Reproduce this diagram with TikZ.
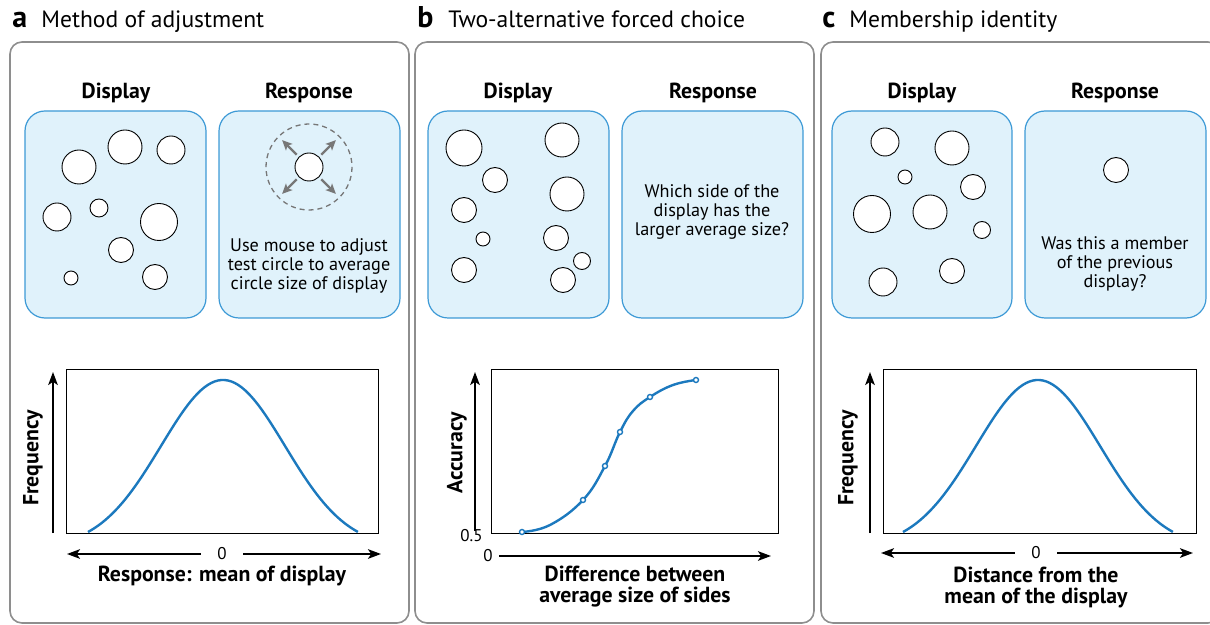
\documentclass[tikz,border=0pt]{standalone}
\usepackage{fontspec}
\setmainfont{PT Sans}
\usetikzlibrary{positioning}
\usetikzlibrary{arrows.meta}

\definecolor{boxblue}{HTML}{E0F2FB}
\definecolor{edgeblue}{HTML}{3D9AD6}
\definecolor{curveblue}{HTML}{1C79BE}
\definecolor{framegray}{HTML}{8E8E8E}
\definecolor{movegray}{HTML}{777777}

\tikzset{
  panelframe/.style={draw=framegray, line width=0.8pt, rounded corners=6pt},
  screenbox/.style={draw=edgeblue, fill=boxblue, line width=0.6pt, rounded corners=10pt},
  disc/.style={draw=black, fill=white, line width=0.45pt},
  panelletter/.style={anchor=base west, inner sep=0pt, font=\fontsize{15}{17}\selectfont\bfseries},
  paneltitle/.style={anchor=base west, inner sep=0pt, font=\fontsize{11.8}{13}\selectfont},
  colhead/.style={anchor=base, inner sep=0pt, font=\fontsize{10.9}{12}\selectfont\bfseries},
  boxtext/.style={align=center, inner sep=0pt, font=\fontsize{9.1}{9.5}\selectfont},
  axtitle/.style={align=center, inner sep=0pt, font=\fontsize{10.9}{10.5}\selectfont\bfseries},
  numlabel/.style={inner sep=0pt, font=\fontsize{8.5}{9}\selectfont},
  plotframe/.style={draw=black, line width=0.5pt},
  axarrow/.style={line width=1pt, -{Stealth[length=6.5pt,width=4.8pt,inset=1.6pt]}},
  movearrow/.style={draw=movegray, line width=1.2pt, -{Stealth[length=5pt,width=4.6pt,inset=1.2pt]}},
  bluecurve/.style={draw=curveblue, line width=1.2pt},
  dotmark/.style={draw=curveblue, fill=white, line width=0.7pt},
}

\begin{document}
\begin{tikzpicture}[x=0.5pt, y=-0.5pt]
\path[use as bounding box, clip] (0,0) rectangle (1210,625);

% panel frames and titles
\draw[panelframe] (10,42) rectangle (409,623);
\draw[panelframe] (415,42) rectangle (814,623);
\draw[panelframe] (821,42) rectangle (1220,623);
\node[panelletter] (letA) at (12,28) {a};
\node[paneltitle] (titA) at (41,28) {Method of adjustment};
\node[panelletter] (letB) at (417,28) {b};
\node[paneltitle] (titB) at (448,28) {Two-alternative forced choice};
\node[panelletter] (letC) at (822,28) {c};
\node[paneltitle] (titC) at (849,28) {Membership identity};

% column heads
\foreach \n/\x in {dispA/116, dispB/518, dispC/922}
  \node[colhead] (\n) at (\x,99) {Display};
\foreach \n/\x in {respA/309, respB/713, respC/1115}
  \node[colhead] (\n) at (\x,99) {Response};

% screens
\draw[screenbox] (25,111) rectangle (206,318);
\draw[screenbox] (219,111) rectangle (400,318);
\draw[screenbox] (428,111) rectangle (609,318);
\draw[screenbox] (622,111) rectangle (803,318);
\draw[screenbox] (832,111) rectangle (1012,318);
\draw[screenbox] (1025,111) rectangle (1206,318);

% a: display
\foreach \cx/\cy/\r in {79/167/17, 125/147/17, 171/150/14, 57/217/14, 99/208/9,
    159/222/18.5, 121/250/12.5, 71/278/7, 155/277/12.5}
  \draw[disc] (\cx,\cy) circle[radius=\r];

% a: response
\draw[draw=movegray, line width=0.65pt, dash pattern=on 2.5pt off 2pt] (309,167) circle[radius=43];
\node[disc, circle, minimum size=14pt, inner sep=0pt] (testdisc) at (309,167) {};
\foreach \a in {45,135,225,315} {
  \path (testdisc.center) ++(\a:38) coordinate (tip\a);
  \draw[movearrow, shorten <=1.5pt] (testdisc) -- (tip\a);
}
\node[boxtext] (askA) at (309,266) {Use mouse to adjust\\test circle to average\\circle size of display};

% b: display
\foreach \cx/\cy/\r in {464/148/18, 495/180/12.5, 464/210/12.5, 483/239/7, 464/270/12.5,
    562/140/17, 567/194/17, 556/238/12.5, 582/261/8.5, 563/280/12.5}
  \draw[disc] (\cx,\cy) circle[radius=\r];
\node[boxtext] (askB) at (712,212) {Which side of the\\display has the\\larger average size?};

% c: display
\foreach \cx/\cy/\r in {885/142/14, 952/148/17, 905/177/7, 973/187/12.5, 872/214/18.5,
    930/212/17, 982/230/8.5, 883/282/14, 952/271/12.5}
  \draw[disc] (\cx,\cy) circle[radius=\r];
\draw[disc] (1116,170) circle[radius=12.5];
\node[boxtext] (askC) at (1115,264) {Was this a member\\of the previous\\display?};

% plot frames
\draw[plotframe] (66,370) rectangle (378,533);
\draw[plotframe] (491,370) rectangle (778,533);
\draw[plotframe] (883,370) rectangle (1196,533);

% a: axes
\coordinate (aY0) at (53,533);
\coordinate (aY1) at (53,372);
\draw[axarrow] (aY0) -- (aY1);
\node[axtitle, rotate=90] (freqA) at (33,458) {Frequency};
\node[numlabel, inner xsep=8pt] (zeroA) at (222,554) {0};
\coordinate (aXL) at (67,554);
\coordinate (aXR) at (381,554);
\draw[axarrow] (zeroA) -- (aXL);
\draw[axarrow] (zeroA) -- (aXR);
\node[axtitle] (labA) at (222,576) {Response: mean of display};

% b: axes
\coordinate (bY0) at (475,531);
\coordinate (bY1) at (475,372);
\draw[axarrow] (bY0) -- (bY1);
\node[axtitle, rotate=90] (accB) at (457,453) {Accuracy};
\node[numlabel, anchor=east] (halfB) at (483,536) {0.5};
\node[numlabel] (zeroB) at (488,556) {0};
\coordinate (bX0) at (499,556);
\coordinate (bX1) at (771,556);
\draw[axarrow] (bX0) -- (bX1);
\node[axtitle] (labB) at (635,587) {Difference between\\average size of sides};

% c: axes
\coordinate (cY0) at (870,533);
\coordinate (cY1) at (870,372);
\draw[axarrow] (cY0) -- (cY1);
\node[axtitle, rotate=90] (freqC) at (848,458) {Frequency};
\node[numlabel, inner xsep=8pt] (zeroC) at (1036,553) {0};
\coordinate (cXL) at (881,553);
\coordinate (cXR) at (1193,553);
\draw[axarrow] (zeroC) -- (cXL);
\draw[axarrow] (zeroC) -- (cXR);
\node[axtitle] (labC) at (1036,587) {Distance from the\\mean of the display};

% curves
\foreach \c in {223,1038}
  \draw[bluecurve] plot[domain=-1.35:1.35, samples=80, variable=\u]
    ({\c+100*\u}, {532-152*(exp(-\u*\u/0.7688)-0.0934)/0.9066});
\draw[bluecurve] plot[smooth, tension=0.7] coordinates
  {(522,532) (550,525) (583,500) (605,466) (620,432) (633,411) (650,397) (673,385) (696,380)};
\foreach \px/\py in {522/532, 583/500, 605/466, 620/432, 650/397, 696/380}
  \draw[dotmark] (\px,\py) circle[radius=2.5];
\end{tikzpicture}
\end{document}
